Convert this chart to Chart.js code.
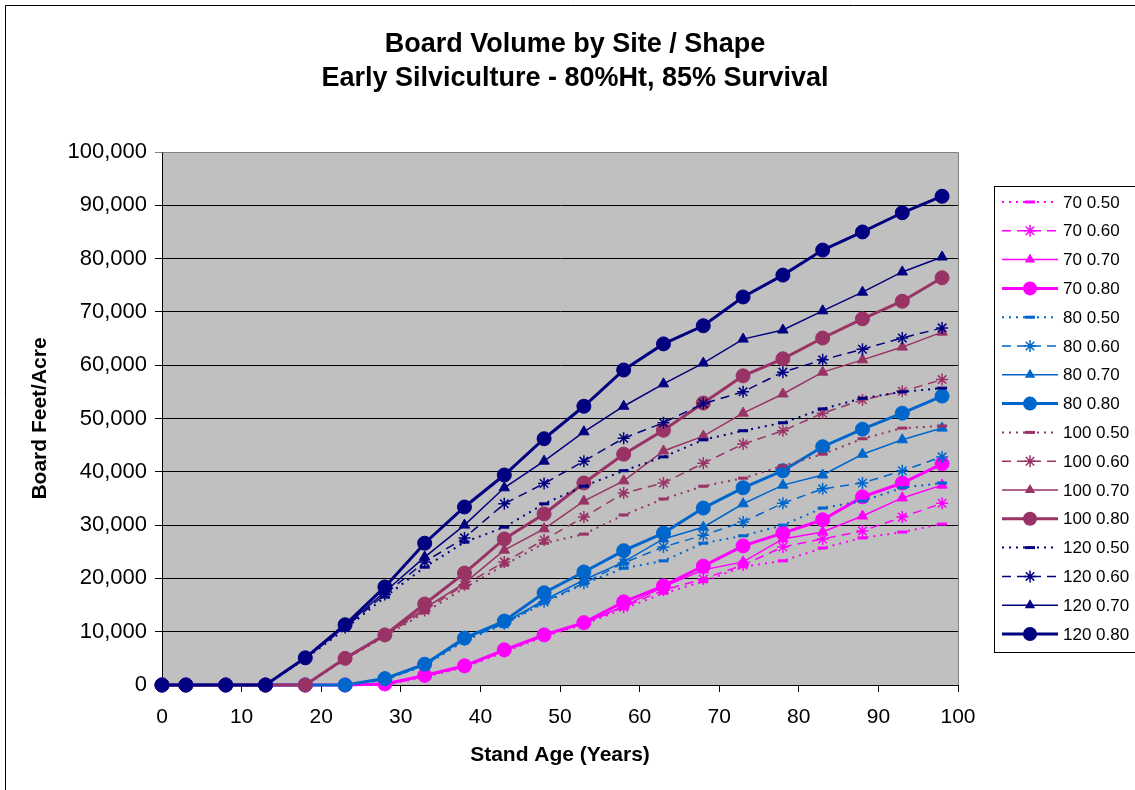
<!DOCTYPE html>
<html>
<head>
<meta charset="utf-8">
<title>Board Volume by Site / Shape</title>
<script src="https://cdn.jsdelivr.net/npm/chart.js@4.4.1/dist/chart.umd.min.js"></script>
<style>
  html, body { margin: 0; padding: 0; background: #fff; }
  canvas { display: block; }
</style>
</head>
<body>
<canvas id="graficoVolumen" width="1135" height="790"></canvas>
<script>
// Edad del rodal (años)
const ages = [0, 3, 8, 13, 18, 23, 28, 33, 38, 43, 48, 53, 58, 63, 68, 73, 78, 83, 88, 93, 98];

// Board feet / acre por sitio y forma
const site70_050 = [0, 0, 0, 0, 0, 0, 0, 1500, 3300, 6200, 9100, 11400, 14300, 17200, 19400, 22200, 23300, 25700, 27600, 28700, 30200];
const site70_060 = [0, 0, 0, 0, 0, 0, 0, 1600, 3400, 6300, 9200, 11500, 14600, 17800, 19900, 22500, 25900, 27400, 28900, 31500, 34100];
const site70_070 = [0, 0, 0, 0, 0, 0, 100, 1700, 3500, 6400, 9300, 11600, 14800, 18400, 21600, 23100, 27400, 28700, 31700, 35100, 37500];
const site70_080 = [0, 0, 0, 0, 0, 0, 200, 1800, 3600, 6600, 9400, 11700, 15600, 18600, 22300, 26100, 28500, 31000, 35300, 37900, 41500];

const site80_050 = [0, 0, 0, 0, 0, 0, 1000, 3600, 8300, 11400, 15400, 19000, 21900, 23300, 26600, 28000, 30000, 33200, 34500, 37000, 37900];
const site80_060 = [0, 0, 0, 0, 0, 0, 1000, 3700, 8500, 11500, 15600, 19100, 22900, 25900, 28100, 30600, 34100, 36800, 37900, 40200, 42800];
const site80_070 = [0, 0, 0, 0, 0, 0, 1100, 3800, 8700, 11700, 15900, 19700, 23100, 27400, 29600, 34000, 37500, 39400, 43300, 46000, 48200];
const site80_080 = [0, 0, 0, 0, 0, 0, 1200, 3900, 8800, 12000, 17300, 21200, 25200, 28500, 33200, 37000, 40200, 44700, 48000, 51000, 54200];

const site100_050 = [0, 0, 0, 0, 0, 4800, 9100, 13600, 18200, 22500, 26600, 28300, 31900, 34900, 37300, 38800, 41100, 43300, 46200, 48200, 48600];
const site100_060 = [0, 0, 0, 0, 0, 4900, 9200, 14000, 18800, 23100, 27200, 31500, 36000, 37900, 41600, 45200, 47700, 51000, 53500, 55100, 57300];
const site100_070 = [0, 0, 0, 0, 0, 4900, 9300, 14400, 19100, 25300, 29300, 34500, 38300, 43900, 46700, 51000, 54600, 58700, 61000, 63400, 66200];
const site100_080 = [0, 0, 0, 0, 0, 5000, 9400, 15200, 21000, 27400, 32100, 37900, 43300, 47800, 52900, 58000, 61200, 65100, 68700, 72000, 76400];

const site120_050 = [0, 0, 0, 0, 4900, 10500, 16500, 22100, 26800, 29600, 34000, 37300, 40200, 42800, 46000, 47700, 49200, 51800, 53800, 55000, 55700];
const site120_060 = [0, 0, 0, 0, 5000, 10800, 17000, 23100, 27600, 34000, 37800, 42000, 46300, 49200, 52800, 55000, 58700, 61000, 63000, 65100, 67000];
const site120_070 = [0, 0, 0, 0, 5000, 11000, 17500, 24000, 30000, 37000, 42000, 47500, 52300, 56500, 60400, 64900, 66600, 70200, 73700, 77500, 80300];
const site120_080 = [0, 0, 0, 0, 5100, 11300, 18400, 26600, 33400, 39400, 46200, 52300, 59100, 64000, 67400, 72800, 76900, 81600, 85000, 88600, 91700];

const sites = ['70', '80', '100', '120'];
const shapes = ['0.50', '0.60', '0.70', '0.80'];
const seriesValues = [
    site70_050, site70_060, site70_070, site70_080,
    site80_050, site80_060, site80_070, site80_080,
    site100_050, site100_060, site100_070, site100_080,
    site120_050, site120_060, site120_070, site120_080
];

const siteColors = { '70': '#FF00FF', '80': '#0066CC', '100': '#993366', '120': '#000080' };
const shapeStyles = {
    '0.50': { borderWidth: 2, borderDash: [2, 5], pointStyle: 'line', pointRadius: 5, pointBorderWidth: 3 },
    '0.60': { borderWidth: 1.5, borderDash: [9, 6], pointStyle: 'star', pointRadius: 6, pointBorderWidth: 1.5 },
    '0.70': { borderWidth: 1.5, borderDash: [], pointStyle: 'triangle', pointRadius: 6, pointBorderWidth: 1 },
    '0.80': { borderWidth: 3, borderDash: [], pointStyle: 'circle', pointRadius: 7, pointBorderWidth: 1 }
};

const FONT = "'Liberation Sans', Arial, Helvetica, sans-serif";

const datasets = [];
sites.forEach(function(site) {
    shapes.forEach(function(shape) {
        const idx = datasets.length;
        const st = shapeStyles[shape];
        const color = siteColors[site];
        datasets.push({
            label: site + ' ' + shape,
            data: ages.map((a, i) => ({ x: a, y: seriesValues[idx][i] })),
            borderColor: color,
            backgroundColor: color,
            pointBackgroundColor: color,
            pointBorderColor: color,
            borderWidth: st.borderWidth,
            borderDash: st.borderDash,
            pointStyle: st.pointStyle,
            pointRadius: st.pointRadius,
            pointBorderWidth: st.pointBorderWidth,
            tension: 0,
            fill: false,
            clip: false,
            order: 15 - idx
        });
    });
});

// marcador para la leyenda
function drawMarker(ctx, style, x, y, r, color, bw) {
    ctx.save();
    ctx.setLineDash([]);
    ctx.strokeStyle = color;
    ctx.fillStyle = color;
    ctx.lineWidth = bw;
    ctx.beginPath();
    if (style === 'circle') {
        ctx.arc(x, y, r, 0, Math.PI * 2);
        ctx.fill();
    } else if (style === 'triangle') {
        ctx.moveTo(x, y - r);
        ctx.lineTo(x + Math.sin(2 * Math.PI / 3) * r, y + r / 2);
        ctx.lineTo(x - Math.sin(2 * Math.PI / 3) * r, y + r / 2);
        ctx.closePath();
        ctx.fill();
    } else if (style === 'star') {
        for (let k = 0; k < 4; k++) {
            const a = k * Math.PI / 4;
            ctx.moveTo(x - Math.cos(a) * r, y - Math.sin(a) * r);
            ctx.lineTo(x + Math.cos(a) * r, y + Math.sin(a) * r);
        }
        ctx.stroke();
    } else {
        ctx.moveTo(x - r, y);
        ctx.lineTo(x + r, y);
        ctx.stroke();
    }
    ctx.restore();
}

const decorPlugin = {
    id: 'decor',
    beforeDraw(chart) {
        const ctx = chart.ctx;
        const a = chart.chartArea;
        ctx.save();
        ctx.fillStyle = '#fff';
        ctx.fillRect(0, 0, chart.width, chart.height);
        ctx.strokeStyle = '#000';
        ctx.lineWidth = 1;
        ctx.beginPath();
        ctx.moveTo(5.5, chart.height + 2);
        ctx.lineTo(5.5, 5.5);
        ctx.lineTo(chart.width + 2, 5.5);
        ctx.stroke();
        ctx.fillStyle = '#C0C0C0';
        ctx.fillRect(a.left, a.top, a.right - a.left, a.bottom - a.top);
        ctx.restore();
    },
    afterDraw(chart) {
        const ctx = chart.ctx;
        const a = chart.chartArea;
        ctx.save();
        // borde derecho del área del gráfico
        ctx.strokeStyle = '#808080';
        ctx.lineWidth = 1;
        ctx.beginPath();
        ctx.moveTo(Math.round(a.left) + 0.5, Math.round(a.top) + 0.5);
        ctx.lineTo(Math.round(a.right) + 0.5, Math.round(a.top) + 0.5);
        ctx.lineTo(Math.round(a.right) + 0.5, Math.round(a.bottom));
        ctx.stroke();

        // títulos
        ctx.fillStyle = '#000';
        ctx.textAlign = 'center';
        ctx.textBaseline = 'middle';
        ctx.font = 'bold 27px ' + FONT;
        ctx.fillText('Board Volume by Site / Shape', 575, 45);
        ctx.fillText('Early Silviculture - 80%Ht, 85% Survival', 575, 79);

        // leyenda
        const lx = 994, ly = 186, rowH = 28.8;
        ctx.fillStyle = '#fff';
        ctx.fillRect(lx, ly, chart.width - lx + 5, 466);
        ctx.strokeStyle = '#000';
        ctx.strokeRect(lx + 0.5, ly + 0.5, chart.width - lx + 5, 466);
        ctx.font = '17px ' + FONT;
        ctx.textAlign = 'left';
        chart.data.datasets.forEach(function(ds, i) {
            const y = ly + 16 + i * rowH;
            ctx.save();
            ctx.strokeStyle = ds.borderColor;
            ctx.lineWidth = ds.borderWidth;
            ctx.setLineDash(ds.borderDash);
            ctx.beginPath();
            ctx.moveTo(lx + 8, y);
            ctx.lineTo(lx + 64, y);
            ctx.stroke();
            ctx.restore();
            drawMarker(ctx, ds.pointStyle, lx + 36, y, ds.pointRadius, ds.borderColor, ds.pointBorderWidth);
            ctx.fillStyle = '#000';
            ctx.fillText(ds.label, lx + 69, y + 1);
        });
        ctx.restore();
    }
};

const ctx = document.getElementById('graficoVolumen').getContext('2d');
new Chart(ctx, {
    type: 'line',
    data: { datasets: datasets },
    options: {
        responsive: false,
        animation: false,
        events: [],
        layout: { padding: { top: 152, right: 177, bottom: 0, left: 0 } },
        plugins: {
            legend: { display: false },
            title: { display: false },
            tooltip: { enabled: false }
        },
        scales: {
            x: {
                type: 'linear',
                min: 0,
                max: 100,
                afterFit: function(scale) { scale.height = 105; },
                ticks: {
                    stepSize: 10,
                    color: '#000',
                    padding: 13,
                    maxRotation: 0,
                    font: { family: FONT, size: 21 }
                },
                grid: {
                    drawOnChartArea: false,
                    drawTicks: true,
                    tickLength: 7,
                    color: '#000'
                },
                border: { display: true, color: '#000', width: 1 },
                title: {
                    display: true,
                    text: 'Stand Age (Years)',
                    color: '#000',
                    padding: { top: 0, bottom: 22 },
                    font: { family: FONT, size: 21, weight: 'bold' }
                }
            },
            y: {
                type: 'linear',
                min: 0,
                max: 100000,
                afterFit: function(scale) { scale.width = 162; },
                ticks: {
                    stepSize: 10000,
                    color: '#000',
                    padding: 8,
                    font: { family: FONT, size: 22 },
                    callback: function(value) { return value.toLocaleString('en-US'); }
                },
                grid: {
                    drawTicks: true,
                    tickLength: 7,
                    color: function(c) { return (c.tick && c.tick.value === 100000) ? '#808080' : '#000'; }
                },
                border: { display: true, color: '#000', width: 1 },
                title: {
                    display: true,
                    text: 'Board Feet/Acre',
                    color: '#000',
                    padding: { top: 28, bottom: 0 },
                    font: { family: FONT, size: 21, weight: 'bold' }
                }
            }
        }
    },
    plugins: [decorPlugin]
});
</script>
</body>
</html>
